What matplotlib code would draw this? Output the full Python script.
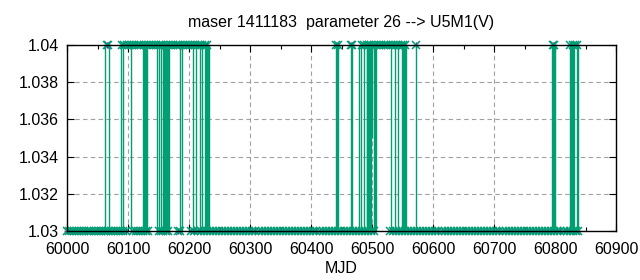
import matplotlib
matplotlib.use("Agg")
import matplotlib.pyplot as plt
from matplotlib.ticker import MultipleLocator

plt.rcParams['font.family'] = ['Liberation Sans', 'DejaVu Sans']

title = "maser 1411183  parameter 26 --> U5M1(V)"
xlabel = "MJD"
low_value = 1.03
high_value = 1.04
mid_value = 1.035

# observations at the low level (1.03)
low_mjd = [60000, 60004, 60008, 60012, 60016, 60020, 60024, 60028, 60032, 60036,
           60040, 60044, 60048, 60052, 60056, 60060, 60064, 60068, 60072, 60076,
           60080, 60084, 60088, 60092, 60096,
           60109, 60113, 60117, 60121, 60125, 60129, 60132,
           60150, 60154, 60158, 60162, 60166,
           60182, 60186,
           60204, 60209, 60214, 60219, 60224, 60229, 60234, 60239, 60244, 60249,
           60254, 60259, 60264, 60269, 60274, 60279, 60284, 60289, 60294, 60299,
           60304, 60309, 60314, 60319, 60324, 60329, 60334, 60339, 60344, 60349,
           60354, 60359, 60364, 60369, 60374, 60379, 60384, 60389, 60394, 60399,
           60404, 60409, 60414, 60419, 60424, 60429, 60434, 60439, 60444, 60449,
           60454, 60459, 60464, 60469, 60474, 60479, 60484, 60489, 60494, 60499, 60504,
           60529, 60534, 60539, 60544, 60549, 60554, 60559, 60564, 60569, 60574,
           60579, 60584, 60589, 60594, 60599, 60604, 60609, 60614, 60619, 60624,
           60629, 60634, 60639, 60644, 60649, 60654, 60659, 60664, 60669, 60674,
           60679, 60684, 60689, 60694, 60699, 60704, 60709, 60714, 60719, 60724,
           60729, 60734, 60739, 60744, 60749, 60754, 60759, 60764, 60769, 60774,
           60779, 60784, 60789, 60794, 60799, 60804, 60809, 60814, 60819, 60824,
           60829, 60834, 60837]

# observations at the high level (1.04)
high_mjd = [60065, 60068,
            60090, 60094, 60098, 60102, 60106, 60110, 60114, 60118, 60122, 60126,
            60130, 60134, 60138, 60142, 60146, 60150, 60154, 60158, 60162, 60166,
            60170, 60174, 60178, 60182, 60186, 60190, 60194, 60198, 60202, 60206,
            60210, 60214, 60218, 60222, 60226, 60230,
            60441, 60444,
            60465, 60468,
            60483, 60487, 60491, 60495, 60499, 60503, 60507, 60511, 60515, 60519,
            60523, 60527, 60531, 60535, 60539, 60543, 60547, 60551, 60554,
            60572,
            60796, 60799,
            60825, 60829, 60833, 60836]

# epochs where the value jumps between the two levels
switch_mjd = [60063, 60069,
              60088, 60091, 60105,
              60124, 60125.5, 60127, 60128.5, 60130, 60131.5,
              60147, 60151, 60154,
              60157, 60158.5, 60160.5, 60161.5,
              60164, 60165.5, 60167,
              60186, 60189, 60207, 60212, 60218, 60222,
              60226, 60227.5, 60229, 60230.5, 60232,
              60441, 60442.5, 60444,
              60465, 60467,
              60479, 60482, 60487,
              60491, 60492.5, 60494, 60495.5, 60497, 60498.5,
              60504, 60505.5, 60507,
              60531, 60538, 60543,
              60549, 60550.5, 60552, 60553.5, 60555,
              60572,
              60795, 60796.5, 60798, 60799.5,
              60824, 60825.5, 60827, 60828.5, 60830, 60831.5,
              60836, 60837.5]

# epochs where the value drops only to the middle level
partial_mjd = [60159, 60500.5]

xticks = [60000, 60100, 60200, 60300, 60400, 60500, 60600, 60700, 60800, 60900]
yticks = [1.03, 1.032, 1.034, 1.036, 1.038, 1.04]
ytick_labels = ["1.03", "1.032", "1.034", "1.036", "1.038", "1.04"]

green = "#009E73"
purple = "#9400D3"

fig = plt.figure(figsize=(6.4, 2.8), dpi=100)
ax = fig.add_axes([67 / 640, (280 - 231) / 280, (616 - 67) / 640, (231 - 45) / 280])

ax.set_xlim(60000, 60900)
ax.set_ylim(1.03, 1.04)

ax.grid(True, color="#a0a0a0", linestyle=(0, (4, 3)), linewidth=0.8, zorder=0)
ax.set_axisbelow(True)

# purple points underneath
ax.plot(low_mjd, [low_value] * len(low_mjd), linestyle="none", marker="+",
        ms=4, mew=1.0, color=purple, clip_on=False, zorder=2)
ax.plot(high_mjd, [high_value] * len(high_mjd), linestyle="none", marker="+",
        ms=4, mew=1.0, color=purple, clip_on=False, zorder=2)

# vertical jumps
ax.vlines(switch_mjd, low_value, high_value, color=green, linewidth=1.0, zorder=3)
ax.vlines(partial_mjd, mid_value, high_value, color=green, linewidth=1.0, zorder=3)

# green points
ax.plot(low_mjd, [low_value] * len(low_mjd), linestyle="none", marker="x",
        ms=6, mew=1.1, color=green, clip_on=False, zorder=4)
ax.plot(high_mjd, [high_value] * len(high_mjd), linestyle="none", marker="x",
        ms=6, mew=1.1, color=green, clip_on=False, zorder=4)

ax.set_xticks(xticks)
ax.set_xticklabels([str(v) for v in xticks])
ax.set_yticks(yticks)
ax.set_yticklabels(ytick_labels)
ax.xaxis.set_minor_locator(MultipleLocator(50))

ax.tick_params(axis="x", which="major", direction="in", length=5, width=0.8,
               top=True, labelsize=11.5, colors="black", pad=8)
ax.tick_params(axis="y", which="major", direction="in", length=5, width=0.8,
               right=True, labelsize=11.5, colors="black", pad=6)
ax.tick_params(axis="x", which="minor", direction="in", length=3, width=0.8,
               top=True, bottom=True)

for s in ax.spines.values():
    s.set_linewidth(1.0)
    s.set_color("black")
    s.set_zorder(10)

ax.set_title(title, fontsize=11.5, pad=13)
ax.set_xlabel(xlabel, fontsize=11.5, labelpad=3)

fig.savefig("out.png", dpi=100)
